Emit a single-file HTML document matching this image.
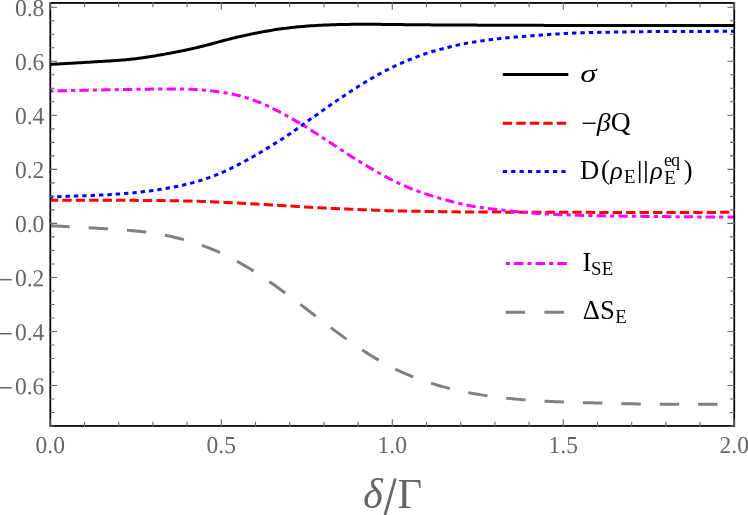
<!DOCTYPE html>
<html><head><meta charset="utf-8"><title>plot</title>
<style>html,body{margin:0;padding:0;background:#fff;}svg{display:block;will-change:transform;}text{font-family:"Liberation Serif",serif;}</style>
</head><body>
<svg width="748" height="515" viewBox="0 0 748 515">
<rect width="748" height="515" fill="#fff"/>
<g fill="none" stroke-width="3.0" stroke-linejoin="round">
<path d="M50.30 64.40 L52.01 64.31 L53.72 64.21 L55.43 64.12 L57.14 64.02 L58.85 63.93 L60.56 63.83 L62.27 63.74 L63.98 63.64 L65.69 63.55 L67.40 63.45 L69.11 63.35 L70.82 63.25 L72.53 63.16 L74.24 63.06 L75.95 62.96 L77.66 62.86 L79.37 62.76 L81.08 62.66 L82.79 62.55 L84.50 62.45 L86.21 62.35 L87.92 62.24 L89.63 62.14 L91.34 62.03 L93.05 61.93 L94.76 61.82 L96.47 61.71 L98.18 61.61 L99.89 61.50 L101.60 61.40 L103.31 61.30 L105.02 61.19 L106.73 61.09 L108.44 60.98 L110.15 60.88 L111.86 60.77 L113.57 60.66 L115.28 60.54 L116.99 60.42 L118.70 60.30 L120.41 60.17 L122.12 60.04 L123.83 59.90 L125.54 59.75 L127.25 59.60 L128.96 59.44 L130.67 59.27 L132.38 59.09 L134.09 58.90 L135.80 58.70 L137.51 58.49 L139.22 58.27 L140.93 58.03 L142.64 57.79 L144.35 57.54 L146.06 57.29 L147.77 57.02 L149.48 56.75 L151.19 56.48 L152.90 56.20 L154.61 55.92 L156.32 55.63 L158.03 55.34 L159.74 55.04 L161.45 54.75 L163.16 54.44 L164.87 54.14 L166.58 53.83 L168.29 53.52 L170.00 53.20 L171.71 52.88 L173.42 52.56 L175.13 52.23 L176.84 51.90 L178.55 51.56 L180.26 51.22 L181.97 50.87 L183.68 50.52 L185.39 50.16 L187.10 49.80 L188.81 49.43 L190.52 49.06 L192.23 48.68 L193.94 48.29 L195.65 47.89 L197.36 47.49 L199.07 47.08 L200.78 46.66 L202.49 46.23 L204.20 45.80 L205.91 45.36 L207.62 44.91 L209.33 44.45 L211.04 43.99 L212.75 43.52 L214.46 43.06 L216.17 42.59 L217.88 42.12 L219.59 41.66 L221.30 41.20 L223.01 40.75 L224.72 40.30 L226.43 39.85 L228.14 39.41 L229.85 38.98 L231.56 38.55 L233.27 38.13 L234.98 37.71 L236.69 37.30 L238.40 36.90 L240.11 36.50 L241.82 36.11 L243.53 35.73 L245.24 35.35 L246.95 34.97 L248.66 34.61 L250.37 34.25 L252.08 33.89 L253.79 33.54 L255.50 33.20 L257.21 32.86 L258.92 32.53 L260.63 32.21 L262.34 31.89 L264.05 31.58 L265.76 31.28 L267.47 30.98 L269.18 30.69 L270.89 30.40 L272.60 30.13 L274.31 29.85 L276.02 29.59 L277.73 29.34 L279.44 29.09 L281.15 28.84 L282.86 28.61 L284.57 28.38 L286.28 28.16 L287.99 27.95 L289.70 27.75 L291.41 27.55 L293.12 27.37 L294.83 27.19 L296.54 27.01 L298.25 26.85 L299.96 26.69 L301.67 26.54 L303.38 26.39 L305.09 26.25 L306.80 26.12 L308.51 25.99 L310.22 25.87 L311.93 25.76 L313.64 25.65 L315.35 25.54 L317.06 25.45 L318.77 25.35 L320.48 25.26 L322.19 25.18 L323.90 25.10 L325.61 25.02 L327.32 24.95 L329.03 24.89 L330.74 24.82 L332.45 24.76 L334.16 24.71 L335.87 24.66 L337.58 24.61 L339.29 24.57 L341.00 24.53 L342.71 24.49 L344.42 24.46 L346.13 24.43 L347.84 24.40 L349.55 24.38 L351.26 24.35 L352.97 24.34 L354.68 24.32 L356.39 24.31 L358.10 24.30 L359.81 24.29 L361.52 24.29 L363.23 24.29 L364.94 24.29 L366.65 24.29 L368.36 24.29 L370.07 24.30 L371.78 24.31 L373.49 24.32 L375.20 24.33 L376.91 24.34 L378.62 24.36 L380.33 24.37 L382.04 24.39 L383.75 24.41 L385.46 24.42 L387.17 24.44 L388.88 24.46 L390.59 24.48 L392.30 24.50 L394.01 24.52 L395.72 24.54 L397.43 24.56 L399.14 24.58 L400.85 24.60 L402.56 24.62 L404.27 24.64 L405.98 24.66 L407.69 24.68 L409.40 24.70 L411.11 24.71 L412.82 24.73 L414.53 24.75 L416.24 24.77 L417.95 24.78 L419.66 24.80 L421.37 24.81 L423.08 24.83 L424.79 24.84 L426.50 24.85 L428.21 24.86 L429.92 24.87 L431.63 24.88 L433.34 24.89 L435.05 24.90 L436.76 24.90 L438.47 24.91 L440.18 24.92 L441.89 24.92 L443.60 24.93 L445.31 24.93 L447.02 24.94 L448.73 24.94 L450.44 24.95 L452.15 24.96 L453.86 24.97 L455.57 24.97 L457.28 24.98 L458.99 24.99 L460.70 25.00 L462.41 25.01 L464.12 25.02 L465.83 25.03 L467.54 25.05 L469.25 25.06 L470.96 25.08 L472.67 25.09 L474.38 25.10 L476.09 25.12 L477.80 25.13 L479.51 25.15 L481.22 25.16 L482.93 25.17 L484.64 25.19 L486.35 25.20 L488.06 25.21 L489.77 25.22 L491.48 25.23 L493.19 25.24 L494.90 25.25 L496.61 25.26 L498.32 25.26 L500.03 25.27 L501.74 25.27 L503.45 25.27 L505.16 25.28 L506.87 25.28 L508.58 25.28 L510.29 25.28 L512.00 25.28 L513.71 25.28 L515.42 25.28 L517.13 25.28 L518.84 25.28 L520.55 25.28 L522.26 25.29 L523.97 25.29 L525.68 25.29 L527.39 25.30 L529.10 25.30 L530.81 25.31 L532.52 25.31 L534.23 25.32 L535.94 25.33 L537.65 25.34 L539.36 25.35 L541.07 25.36 L542.78 25.37 L544.49 25.38 L546.20 25.39 L547.91 25.40 L549.62 25.41 L551.33 25.43 L553.04 25.44 L554.75 25.45 L556.46 25.46 L558.17 25.47 L559.88 25.48 L561.59 25.49 L563.30 25.50 L565.01 25.51 L566.72 25.52 L568.43 25.52 L570.14 25.53 L571.85 25.54 L573.56 25.54 L575.27 25.55 L576.98 25.55 L578.69 25.56 L580.40 25.56 L582.11 25.56 L583.82 25.57 L585.53 25.57 L587.24 25.57 L588.95 25.57 L590.66 25.57 L592.37 25.57 L594.08 25.57 L595.79 25.57 L597.50 25.57 L599.21 25.57 L600.92 25.57 L602.63 25.57 L604.34 25.56 L606.05 25.56 L607.76 25.56 L609.47 25.56 L611.18 25.55 L612.89 25.55 L614.60 25.55 L616.31 25.54 L618.02 25.54 L619.73 25.53 L621.44 25.53 L623.15 25.52 L624.86 25.52 L626.57 25.52 L628.28 25.51 L629.99 25.51 L631.70 25.50 L633.41 25.49 L635.12 25.49 L636.83 25.48 L638.54 25.48 L640.25 25.47 L641.96 25.47 L643.67 25.46 L645.38 25.46 L647.09 25.45 L648.80 25.45 L650.51 25.44 L652.22 25.44 L653.93 25.43 L655.64 25.43 L657.35 25.42 L659.06 25.42 L660.77 25.41 L662.48 25.41 L664.19 25.41 L665.90 25.40 L667.61 25.40 L669.32 25.40 L671.03 25.39 L672.74 25.39 L674.45 25.39 L676.16 25.39 L677.87 25.38 L679.58 25.38 L681.29 25.38 L683.00 25.38 L684.71 25.38 L686.42 25.38 L688.13 25.38 L689.84 25.38 L691.55 25.38 L693.26 25.39 L694.97 25.39 L696.68 25.39 L698.39 25.39 L700.10 25.40 L701.81 25.40 L703.52 25.41 L705.23 25.41 L706.94 25.42 L708.65 25.42 L710.36 25.43 L712.07 25.44 L713.78 25.45 L715.49 25.46 L717.20 25.46 L718.91 25.48 L720.62 25.49 L722.33 25.50 L724.04 25.51 L725.75 25.52 L727.46 25.54 L729.17 25.55 L730.88 25.57 L732.59 25.58 L734.30 25.60" stroke="#000000"/>
<path d="M50.30 200.25 L52.01 200.25 L53.72 200.25 L55.43 200.25 L57.14 200.25 L58.85 200.25 L60.56 200.25 L62.27 200.25 L63.98 200.25 L65.69 200.25 L67.40 200.25 L69.11 200.25 L70.82 200.25 L72.53 200.25 L74.24 200.25 L75.95 200.25 L77.66 200.25 L79.37 200.25 L81.08 200.25 L82.79 200.25 L84.50 200.25 L86.21 200.25 L87.92 200.25 L89.63 200.25 L91.34 200.25 L93.05 200.25 L94.76 200.25 L96.47 200.26 L98.18 200.26 L99.89 200.26 L101.60 200.26 L103.31 200.26 L105.02 200.27 L106.73 200.27 L108.44 200.27 L110.15 200.28 L111.86 200.28 L113.57 200.28 L115.28 200.29 L116.99 200.29 L118.70 200.30 L120.41 200.31 L122.12 200.31 L123.83 200.32 L125.54 200.33 L127.25 200.33 L128.96 200.34 L130.67 200.35 L132.38 200.36 L134.09 200.37 L135.80 200.38 L137.51 200.39 L139.22 200.40 L140.93 200.41 L142.64 200.42 L144.35 200.43 L146.06 200.45 L147.77 200.46 L149.48 200.47 L151.19 200.49 L152.90 200.50 L154.61 200.51 L156.32 200.53 L158.03 200.54 L159.74 200.56 L161.45 200.58 L163.16 200.60 L164.87 200.62 L166.58 200.64 L168.29 200.66 L170.00 200.68 L171.71 200.70 L173.42 200.73 L175.13 200.76 L176.84 200.78 L178.55 200.82 L180.26 200.85 L181.97 200.88 L183.68 200.92 L185.39 200.96 L187.10 201.00 L188.81 201.04 L190.52 201.09 L192.23 201.14 L193.94 201.19 L195.65 201.24 L197.36 201.30 L199.07 201.35 L200.78 201.41 L202.49 201.47 L204.20 201.54 L205.91 201.60 L207.62 201.67 L209.33 201.73 L211.04 201.80 L212.75 201.87 L214.46 201.95 L216.17 202.02 L217.88 202.10 L219.59 202.17 L221.30 202.25 L223.01 202.33 L224.72 202.41 L226.43 202.49 L228.14 202.57 L229.85 202.65 L231.56 202.74 L233.27 202.82 L234.98 202.91 L236.69 203.00 L238.40 203.08 L240.11 203.17 L241.82 203.26 L243.53 203.35 L245.24 203.44 L246.95 203.53 L248.66 203.62 L250.37 203.72 L252.08 203.81 L253.79 203.91 L255.50 204.00 L257.21 204.10 L258.92 204.19 L260.63 204.29 L262.34 204.38 L264.05 204.48 L265.76 204.58 L267.47 204.68 L269.18 204.78 L270.89 204.88 L272.60 204.98 L274.31 205.08 L276.02 205.18 L277.73 205.28 L279.44 205.38 L281.15 205.48 L282.86 205.59 L284.57 205.69 L286.28 205.79 L287.99 205.90 L289.70 206.00 L291.41 206.10 L293.12 206.21 L294.83 206.31 L296.54 206.42 L298.25 206.52 L299.96 206.63 L301.67 206.73 L303.38 206.84 L305.09 206.94 L306.80 207.04 L308.51 207.14 L310.22 207.25 L311.93 207.34 L313.64 207.44 L315.35 207.54 L317.06 207.64 L318.77 207.73 L320.48 207.82 L322.19 207.91 L323.90 208.00 L325.61 208.09 L327.32 208.17 L329.03 208.25 L330.74 208.33 L332.45 208.41 L334.16 208.49 L335.87 208.57 L337.58 208.64 L339.29 208.72 L341.00 208.79 L342.71 208.86 L344.42 208.93 L346.13 209.01 L347.84 209.08 L349.55 209.15 L351.26 209.22 L352.97 209.29 L354.68 209.36 L356.39 209.43 L358.10 209.50 L359.81 209.57 L361.52 209.64 L363.23 209.72 L364.94 209.79 L366.65 209.86 L368.36 209.93 L370.07 210.00 L371.78 210.07 L373.49 210.14 L375.20 210.21 L376.91 210.28 L378.62 210.34 L380.33 210.41 L382.04 210.47 L383.75 210.53 L385.46 210.59 L387.17 210.65 L388.88 210.70 L390.59 210.75 L392.30 210.80 L394.01 210.85 L395.72 210.89 L397.43 210.93 L399.14 210.97 L400.85 211.00 L402.56 211.04 L404.27 211.07 L405.98 211.10 L407.69 211.13 L409.40 211.16 L411.11 211.18 L412.82 211.21 L414.53 211.23 L416.24 211.26 L417.95 211.28 L419.66 211.30 L421.37 211.33 L423.08 211.35 L424.79 211.38 L426.50 211.40 L428.21 211.43 L429.92 211.45 L431.63 211.48 L433.34 211.50 L435.05 211.53 L436.76 211.56 L438.47 211.58 L440.18 211.61 L441.89 211.64 L443.60 211.67 L445.31 211.69 L447.02 211.72 L448.73 211.74 L450.44 211.77 L452.15 211.79 L453.86 211.82 L455.57 211.84 L457.28 211.86 L458.99 211.88 L460.70 211.90 L462.41 211.92 L464.12 211.93 L465.83 211.95 L467.54 211.97 L469.25 211.98 L470.96 211.99 L472.67 212.00 L474.38 212.01 L476.09 212.02 L477.80 212.03 L479.51 212.04 L481.22 212.05 L482.93 212.06 L484.64 212.06 L486.35 212.07 L488.06 212.08 L489.77 212.08 L491.48 212.09 L493.19 212.09 L494.90 212.10 L496.61 212.11 L498.32 212.11 L500.03 212.12 L501.74 212.12 L503.45 212.13 L505.16 212.13 L506.87 212.14 L508.58 212.14 L510.29 212.15 L512.00 212.15 L513.71 212.16 L515.42 212.16 L517.13 212.17 L518.84 212.17 L520.55 212.18 L522.26 212.18 L523.97 212.19 L525.68 212.19 L527.39 212.20 L529.10 212.20 L530.81 212.20 L532.52 212.21 L534.23 212.21 L535.94 212.22 L537.65 212.22 L539.36 212.23 L541.07 212.23 L542.78 212.24 L544.49 212.25 L546.20 212.25 L547.91 212.26 L549.62 212.26 L551.33 212.27 L553.04 212.27 L554.75 212.28 L556.46 212.28 L558.17 212.29 L559.88 212.29 L561.59 212.30 L563.30 212.30 L565.01 212.30 L566.72 212.31 L568.43 212.31 L570.14 212.32 L571.85 212.32 L573.56 212.33 L575.27 212.33 L576.98 212.34 L578.69 212.34 L580.40 212.35 L582.11 212.35 L583.82 212.36 L585.53 212.36 L587.24 212.37 L588.95 212.37 L590.66 212.37 L592.37 212.38 L594.08 212.38 L595.79 212.39 L597.50 212.39 L599.21 212.39 L600.92 212.40 L602.63 212.40 L604.34 212.41 L606.05 212.41 L607.76 212.41 L609.47 212.42 L611.18 212.42 L612.89 212.42 L614.60 212.43 L616.31 212.43 L618.02 212.43 L619.73 212.44 L621.44 212.44 L623.15 212.44 L624.86 212.44 L626.57 212.45 L628.28 212.45 L629.99 212.45 L631.70 212.45 L633.41 212.46 L635.12 212.46 L636.83 212.46 L638.54 212.46 L640.25 212.46 L641.96 212.46 L643.67 212.47 L645.38 212.47 L647.09 212.47 L648.80 212.47 L650.51 212.47 L652.22 212.47 L653.93 212.47 L655.64 212.47 L657.35 212.47 L659.06 212.47 L660.77 212.47 L662.48 212.47 L664.19 212.47 L665.90 212.47 L667.61 212.47 L669.32 212.47 L671.03 212.47 L672.74 212.47 L674.45 212.47 L676.16 212.47 L677.87 212.46 L679.58 212.46 L681.29 212.46 L683.00 212.46 L684.71 212.46 L686.42 212.45 L688.13 212.45 L689.84 212.45 L691.55 212.44 L693.26 212.44 L694.97 212.44 L696.68 212.43 L698.39 212.43 L700.10 212.43 L701.81 212.42 L703.52 212.42 L705.23 212.41 L706.94 212.41 L708.65 212.40 L710.36 212.40 L712.07 212.39 L713.78 212.39 L715.49 212.38 L717.20 212.37 L718.91 212.37 L720.62 212.36 L722.33 212.35 L724.04 212.35 L725.75 212.34 L727.46 212.33 L729.17 212.32 L730.88 212.32 L732.59 212.31 L734.30 212.30" stroke="#ff0000" stroke-dasharray="9.3 4.13" stroke-dashoffset="1.4"/>
<path d="M50.30 197.00 L52.01 196.93 L53.72 196.86 L55.43 196.79 L57.14 196.73 L58.85 196.66 L60.56 196.60 L62.27 196.54 L63.98 196.47 L65.69 196.41 L67.40 196.35 L69.11 196.29 L70.82 196.23 L72.53 196.18 L74.24 196.12 L75.95 196.06 L77.66 196.00 L79.37 195.94 L81.08 195.88 L82.79 195.81 L84.50 195.75 L86.21 195.69 L87.92 195.62 L89.63 195.55 L91.34 195.48 L93.05 195.41 L94.76 195.34 L96.47 195.26 L98.18 195.19 L99.89 195.10 L101.60 195.02 L103.31 194.94 L105.02 194.85 L106.73 194.75 L108.44 194.66 L110.15 194.56 L111.86 194.45 L113.57 194.35 L115.28 194.24 L116.99 194.12 L118.70 194.00 L120.41 193.88 L122.12 193.75 L123.83 193.61 L125.54 193.47 L127.25 193.33 L128.96 193.18 L130.67 193.02 L132.38 192.87 L134.09 192.70 L135.80 192.53 L137.51 192.35 L139.22 192.17 L140.93 191.98 L142.64 191.79 L144.35 191.59 L146.06 191.39 L147.77 191.17 L149.48 190.96 L151.19 190.73 L152.90 190.50 L154.61 190.26 L156.32 190.02 L158.03 189.77 L159.74 189.51 L161.45 189.24 L163.16 188.97 L164.87 188.68 L166.58 188.39 L168.29 188.09 L170.00 187.79 L171.71 187.47 L173.42 187.14 L175.13 186.80 L176.84 186.46 L178.55 186.10 L180.26 185.73 L181.97 185.35 L183.68 184.96 L185.39 184.56 L187.10 184.15 L188.81 183.73 L190.52 183.29 L192.23 182.84 L193.94 182.38 L195.65 181.90 L197.36 181.41 L199.07 180.91 L200.78 180.39 L202.49 179.85 L204.20 179.30 L205.91 178.73 L207.62 178.15 L209.33 177.55 L211.04 176.93 L212.75 176.30 L214.46 175.65 L216.17 174.97 L217.88 174.29 L219.59 173.58 L221.30 172.85 L223.01 172.10 L224.72 171.34 L226.43 170.56 L228.14 169.76 L229.85 168.94 L231.56 168.11 L233.27 167.26 L234.98 166.40 L236.69 165.53 L238.40 164.65 L240.11 163.76 L241.82 162.85 L243.53 161.94 L245.24 161.01 L246.95 160.08 L248.66 159.13 L250.37 158.18 L252.08 157.21 L253.79 156.23 L255.50 155.25 L257.21 154.26 L258.92 153.25 L260.63 152.24 L262.34 151.22 L264.05 150.19 L265.76 149.16 L267.47 148.11 L269.18 147.07 L270.89 146.01 L272.60 144.95 L274.31 143.88 L276.02 142.81 L277.73 141.73 L279.44 140.65 L281.15 139.55 L282.86 138.44 L284.57 137.33 L286.28 136.20 L287.99 135.06 L289.70 133.90 L291.41 132.73 L293.12 131.55 L294.83 130.35 L296.54 129.15 L298.25 127.94 L299.96 126.72 L301.67 125.49 L303.38 124.26 L305.09 123.03 L306.80 121.80 L308.51 120.57 L310.22 119.34 L311.93 118.11 L313.64 116.89 L315.35 115.67 L317.06 114.45 L318.77 113.23 L320.48 112.02 L322.19 110.81 L323.90 109.60 L325.61 108.40 L327.32 107.20 L329.03 106.01 L330.74 104.82 L332.45 103.64 L334.16 102.46 L335.87 101.29 L337.58 100.12 L339.29 98.96 L341.00 97.80 L342.71 96.65 L344.42 95.50 L346.13 94.37 L347.84 93.23 L349.55 92.11 L351.26 90.99 L352.97 89.88 L354.68 88.78 L356.39 87.69 L358.10 86.60 L359.81 85.52 L361.52 84.46 L363.23 83.40 L364.94 82.35 L366.65 81.31 L368.36 80.29 L370.07 79.27 L371.78 78.27 L373.49 77.28 L375.20 76.30 L376.91 75.34 L378.62 74.38 L380.33 73.45 L382.04 72.52 L383.75 71.62 L385.46 70.72 L387.17 69.84 L388.88 68.98 L390.59 68.13 L392.30 67.30 L394.01 66.48 L395.72 65.68 L397.43 64.90 L399.14 64.12 L400.85 63.37 L402.56 62.62 L404.27 61.89 L405.98 61.16 L407.69 60.45 L409.40 59.75 L411.11 59.06 L412.82 58.38 L414.53 57.71 L416.24 57.05 L417.95 56.40 L419.66 55.77 L421.37 55.15 L423.08 54.55 L424.79 53.97 L426.50 53.40 L428.21 52.85 L429.92 52.32 L431.63 51.80 L433.34 51.30 L435.05 50.81 L436.76 50.33 L438.47 49.86 L440.18 49.40 L441.89 48.95 L443.60 48.50 L445.31 48.06 L447.02 47.62 L448.73 47.18 L450.44 46.76 L452.15 46.34 L453.86 45.93 L455.57 45.53 L457.28 45.14 L458.99 44.76 L460.70 44.40 L462.41 44.05 L464.12 43.72 L465.83 43.39 L467.54 43.08 L469.25 42.78 L470.96 42.49 L472.67 42.20 L474.38 41.93 L476.09 41.66 L477.80 41.40 L479.51 41.14 L481.22 40.89 L482.93 40.65 L484.64 40.41 L486.35 40.17 L488.06 39.95 L489.77 39.72 L491.48 39.51 L493.19 39.30 L494.90 39.10 L496.61 38.91 L498.32 38.72 L500.03 38.54 L501.74 38.36 L503.45 38.19 L505.16 38.02 L506.87 37.86 L508.58 37.70 L510.29 37.55 L512.00 37.40 L513.71 37.25 L515.42 37.11 L517.13 36.96 L518.84 36.82 L520.55 36.68 L522.26 36.54 L523.97 36.41 L525.68 36.27 L527.39 36.14 L529.10 36.00 L530.81 35.87 L532.52 35.73 L534.23 35.60 L535.94 35.46 L537.65 35.33 L539.36 35.20 L541.07 35.07 L542.78 34.94 L544.49 34.82 L546.20 34.69 L547.91 34.57 L549.62 34.45 L551.33 34.33 L553.04 34.22 L554.75 34.11 L556.46 34.00 L558.17 33.89 L559.88 33.79 L561.59 33.69 L563.30 33.60 L565.01 33.51 L566.72 33.43 L568.43 33.34 L570.14 33.27 L571.85 33.19 L573.56 33.12 L575.27 33.05 L576.98 32.99 L578.69 32.93 L580.40 32.87 L582.11 32.81 L583.82 32.76 L585.53 32.71 L587.24 32.66 L588.95 32.61 L590.66 32.57 L592.37 32.52 L594.08 32.48 L595.79 32.44 L597.50 32.40 L599.21 32.36 L600.92 32.32 L602.63 32.29 L604.34 32.25 L606.05 32.22 L607.76 32.18 L609.47 32.15 L611.18 32.12 L612.89 32.09 L614.60 32.06 L616.31 32.03 L618.02 32.00 L619.73 31.97 L621.44 31.94 L623.15 31.92 L624.86 31.89 L626.57 31.87 L628.28 31.85 L629.99 31.82 L631.70 31.80 L633.41 31.78 L635.12 31.76 L636.83 31.74 L638.54 31.72 L640.25 31.70 L641.96 31.68 L643.67 31.66 L645.38 31.65 L647.09 31.63 L648.80 31.62 L650.51 31.60 L652.22 31.59 L653.93 31.58 L655.64 31.56 L657.35 31.55 L659.06 31.54 L660.77 31.53 L662.48 31.52 L664.19 31.51 L665.90 31.50 L667.61 31.49 L669.32 31.48 L671.03 31.48 L672.74 31.47 L674.45 31.46 L676.16 31.46 L677.87 31.45 L679.58 31.45 L681.29 31.44 L683.00 31.44 L684.71 31.43 L686.42 31.43 L688.13 31.43 L689.84 31.42 L691.55 31.42 L693.26 31.41 L694.97 31.41 L696.68 31.41 L698.39 31.40 L700.10 31.40 L701.81 31.40 L703.52 31.39 L705.23 31.39 L706.94 31.38 L708.65 31.38 L710.36 31.37 L712.07 31.37 L713.78 31.36 L715.49 31.36 L717.20 31.35 L718.91 31.34 L720.62 31.33 L722.33 31.33 L724.04 31.32 L725.75 31.31 L727.46 31.30 L729.17 31.29 L730.88 31.28 L732.59 31.26 L734.30 31.25" stroke="#0000ff" stroke-dasharray="4.4 3.97" stroke-dashoffset="-6.87"/>
<path d="M50.30 91.00 L52.01 90.97 L53.72 90.94 L55.43 90.91 L57.14 90.88 L58.85 90.84 L60.56 90.81 L62.27 90.78 L63.98 90.74 L65.69 90.71 L67.40 90.67 L69.11 90.64 L70.82 90.60 L72.53 90.56 L74.24 90.53 L75.95 90.49 L77.66 90.45 L79.37 90.41 L81.08 90.38 L82.79 90.34 L84.50 90.30 L86.21 90.26 L87.92 90.22 L89.63 90.19 L91.34 90.15 L93.05 90.11 L94.76 90.07 L96.47 90.04 L98.18 90.00 L99.89 89.96 L101.60 89.93 L103.31 89.89 L105.02 89.86 L106.73 89.82 L108.44 89.79 L110.15 89.76 L111.86 89.72 L113.57 89.69 L115.28 89.66 L116.99 89.63 L118.70 89.60 L120.41 89.57 L122.12 89.54 L123.83 89.52 L125.54 89.49 L127.25 89.46 L128.96 89.44 L130.67 89.41 L132.38 89.39 L134.09 89.36 L135.80 89.34 L137.51 89.31 L139.22 89.29 L140.93 89.27 L142.64 89.24 L144.35 89.22 L146.06 89.20 L147.77 89.17 L149.48 89.15 L151.19 89.12 L152.90 89.10 L154.61 89.08 L156.32 89.05 L158.03 89.03 L159.74 89.00 L161.45 88.98 L163.16 88.96 L164.87 88.94 L166.58 88.92 L168.29 88.91 L170.00 88.90 L171.71 88.89 L173.42 88.89 L175.13 88.89 L176.84 88.90 L178.55 88.91 L180.26 88.93 L181.97 88.96 L183.68 89.00 L185.39 89.04 L187.10 89.10 L188.81 89.17 L190.52 89.24 L192.23 89.33 L193.94 89.43 L195.65 89.53 L197.36 89.65 L199.07 89.77 L200.78 89.91 L202.49 90.05 L204.20 90.20 L205.91 90.36 L207.62 90.52 L209.33 90.70 L211.04 90.88 L212.75 91.08 L214.46 91.28 L216.17 91.49 L217.88 91.72 L219.59 91.95 L221.30 92.20 L223.01 92.46 L224.72 92.73 L226.43 93.02 L228.14 93.32 L229.85 93.63 L231.56 93.97 L233.27 94.32 L234.98 94.69 L236.69 95.09 L238.40 95.50 L240.11 95.94 L241.82 96.40 L243.53 96.88 L245.24 97.39 L246.95 97.92 L248.66 98.47 L250.37 99.04 L252.08 99.64 L253.79 100.26 L255.50 100.90 L257.21 101.56 L258.92 102.25 L260.63 102.95 L262.34 103.68 L264.05 104.42 L265.76 105.19 L267.47 105.97 L269.18 106.76 L270.89 107.57 L272.60 108.40 L274.31 109.24 L276.02 110.09 L277.73 110.96 L279.44 111.84 L281.15 112.73 L282.86 113.64 L284.57 114.56 L286.28 115.49 L287.99 116.44 L289.70 117.40 L291.41 118.37 L293.12 119.36 L294.83 120.35 L296.54 121.36 L298.25 122.38 L299.96 123.41 L301.67 124.44 L303.38 125.49 L305.09 126.54 L306.80 127.60 L308.51 128.67 L310.22 129.74 L311.93 130.82 L313.64 131.90 L315.35 132.99 L317.06 134.08 L318.77 135.18 L320.48 136.28 L322.19 137.39 L323.90 138.50 L325.61 139.61 L327.32 140.73 L329.03 141.85 L330.74 142.97 L332.45 144.09 L334.16 145.21 L335.87 146.33 L337.58 147.45 L339.29 148.58 L341.00 149.70 L342.71 150.82 L344.42 151.94 L346.13 153.06 L347.84 154.17 L349.55 155.28 L351.26 156.38 L352.97 157.47 L354.68 158.56 L356.39 159.63 L358.10 160.70 L359.81 161.76 L361.52 162.80 L363.23 163.84 L364.94 164.86 L366.65 165.88 L368.36 166.89 L370.07 167.89 L371.78 168.88 L373.49 169.87 L375.20 170.85 L376.91 171.83 L378.62 172.79 L380.33 173.76 L382.04 174.71 L383.75 175.65 L385.46 176.58 L387.17 177.49 L388.88 178.40 L390.59 179.28 L392.30 180.15 L394.01 181.00 L395.72 181.83 L397.43 182.65 L399.14 183.45 L400.85 184.23 L402.56 184.99 L404.27 185.74 L405.98 186.48 L407.69 187.20 L409.40 187.90 L411.11 188.59 L412.82 189.27 L414.53 189.93 L416.24 190.58 L417.95 191.22 L419.66 191.84 L421.37 192.45 L423.08 193.05 L424.79 193.63 L426.50 194.20 L428.21 194.76 L429.92 195.30 L431.63 195.84 L433.34 196.36 L435.05 196.88 L436.76 197.38 L438.47 197.88 L440.18 198.38 L441.89 198.87 L443.60 199.35 L445.31 199.83 L447.02 200.31 L448.73 200.78 L450.44 201.24 L452.15 201.69 L453.86 202.14 L455.57 202.57 L457.28 203.00 L458.99 203.41 L460.70 203.80 L462.41 204.18 L464.12 204.54 L465.83 204.89 L467.54 205.23 L469.25 205.55 L470.96 205.86 L472.67 206.16 L474.38 206.45 L476.09 206.73 L477.80 207.00 L479.51 207.26 L481.22 207.51 L482.93 207.76 L484.64 207.99 L486.35 208.22 L488.06 208.45 L489.77 208.67 L491.48 208.88 L493.19 209.09 L494.90 209.30 L496.61 209.50 L498.32 209.71 L500.03 209.90 L501.74 210.10 L503.45 210.29 L505.16 210.48 L506.87 210.66 L508.58 210.85 L510.29 211.03 L512.00 211.20 L513.71 211.37 L515.42 211.54 L517.13 211.70 L518.84 211.87 L520.55 212.02 L522.26 212.18 L523.97 212.33 L525.68 212.47 L527.39 212.61 L529.10 212.75 L530.81 212.88 L532.52 213.01 L534.23 213.14 L535.94 213.26 L537.65 213.38 L539.36 213.49 L541.07 213.60 L542.78 213.71 L544.49 213.81 L546.20 213.91 L547.91 214.01 L549.62 214.10 L551.33 214.19 L553.04 214.28 L554.75 214.37 L556.46 214.45 L558.17 214.53 L559.88 214.60 L561.59 214.68 L563.30 214.75 L565.01 214.82 L566.72 214.89 L568.43 214.95 L570.14 215.01 L571.85 215.07 L573.56 215.13 L575.27 215.19 L576.98 215.24 L578.69 215.29 L580.40 215.34 L582.11 215.39 L583.82 215.44 L585.53 215.48 L587.24 215.52 L588.95 215.56 L590.66 215.60 L592.37 215.64 L594.08 215.68 L595.79 215.72 L597.50 215.75 L599.21 215.78 L600.92 215.82 L602.63 215.85 L604.34 215.88 L606.05 215.91 L607.76 215.93 L609.47 215.96 L611.18 215.99 L612.89 216.01 L614.60 216.04 L616.31 216.06 L618.02 216.08 L619.73 216.11 L621.44 216.13 L623.15 216.15 L624.86 216.17 L626.57 216.19 L628.28 216.21 L629.99 216.23 L631.70 216.25 L633.41 216.27 L635.12 216.29 L636.83 216.31 L638.54 216.33 L640.25 216.34 L641.96 216.36 L643.67 216.38 L645.38 216.40 L647.09 216.42 L648.80 216.43 L650.51 216.45 L652.22 216.47 L653.93 216.48 L655.64 216.50 L657.35 216.52 L659.06 216.53 L660.77 216.55 L662.48 216.57 L664.19 216.58 L665.90 216.60 L667.61 216.62 L669.32 216.63 L671.03 216.65 L672.74 216.66 L674.45 216.68 L676.16 216.70 L677.87 216.71 L679.58 216.73 L681.29 216.74 L683.00 216.76 L684.71 216.77 L686.42 216.79 L688.13 216.80 L689.84 216.82 L691.55 216.83 L693.26 216.85 L694.97 216.86 L696.68 216.87 L698.39 216.89 L700.10 216.90 L701.81 216.91 L703.52 216.93 L705.23 216.94 L706.94 216.95 L708.65 216.96 L710.36 216.97 L712.07 216.99 L713.78 217.00 L715.49 217.01 L717.20 217.02 L718.91 217.03 L720.62 217.04 L722.33 217.05 L724.04 217.05 L725.75 217.06 L727.46 217.07 L729.17 217.08 L730.88 217.09 L732.59 217.09 L734.30 217.10" stroke="#ff00ff" stroke-dasharray="4.2 4.15 9.3 4.15" stroke-dashoffset="1.05"/>
<path d="M50.30 225.75 L52.01 225.84 L53.72 225.92 L55.43 226.01 L57.14 226.09 L58.85 226.18 L60.56 226.26 L62.27 226.35 L63.98 226.43 L65.69 226.52 L67.40 226.61 L69.11 226.69 L70.82 226.78 L72.53 226.87 L74.24 226.96 L75.95 227.04 L77.66 227.13 L79.37 227.22 L81.08 227.32 L82.79 227.41 L84.50 227.50 L86.21 227.59 L87.92 227.69 L89.63 227.78 L91.34 227.88 L93.05 227.98 L94.76 228.08 L96.47 228.18 L98.18 228.28 L99.89 228.38 L101.60 228.48 L103.31 228.59 L105.02 228.69 L106.73 228.80 L108.44 228.91 L110.15 229.02 L111.86 229.13 L113.57 229.25 L115.28 229.36 L116.99 229.48 L118.70 229.60 L120.41 229.72 L122.12 229.84 L123.83 229.97 L125.54 230.10 L127.25 230.23 L128.96 230.37 L130.67 230.52 L132.38 230.66 L134.09 230.82 L135.80 230.98 L137.51 231.15 L139.22 231.32 L140.93 231.50 L142.64 231.70 L144.35 231.90 L146.06 232.11 L147.77 232.33 L149.48 232.56 L151.19 232.80 L152.90 233.05 L154.61 233.31 L156.32 233.59 L158.03 233.88 L159.74 234.18 L161.45 234.49 L163.16 234.82 L164.87 235.15 L166.58 235.50 L168.29 235.86 L170.00 236.23 L171.71 236.62 L173.42 237.01 L175.13 237.42 L176.84 237.84 L178.55 238.27 L180.26 238.71 L181.97 239.17 L183.68 239.63 L185.39 240.11 L187.10 240.60 L188.81 241.10 L190.52 241.61 L192.23 242.14 L193.94 242.68 L195.65 243.23 L197.36 243.79 L199.07 244.37 L200.78 244.96 L202.49 245.57 L204.20 246.19 L205.91 246.82 L207.62 247.47 L209.33 248.14 L211.04 248.82 L212.75 249.51 L214.46 250.23 L216.17 250.96 L217.88 251.70 L219.59 252.47 L221.30 253.25 L223.01 254.05 L224.72 254.87 L226.43 255.70 L228.14 256.55 L229.85 257.42 L231.56 258.31 L233.27 259.21 L234.98 260.13 L236.69 261.06 L238.40 262.01 L240.11 262.97 L241.82 263.95 L243.53 264.95 L245.24 265.96 L246.95 266.98 L248.66 268.02 L250.37 269.07 L252.08 270.13 L253.79 271.21 L255.50 272.30 L257.21 273.40 L258.92 274.52 L260.63 275.65 L262.34 276.79 L264.05 277.94 L265.76 279.10 L267.47 280.27 L269.18 281.46 L270.89 282.65 L272.60 283.85 L274.31 285.06 L276.02 286.28 L277.73 287.51 L279.44 288.74 L281.15 289.99 L282.86 291.24 L284.57 292.49 L286.28 293.76 L287.99 295.03 L289.70 296.30 L291.41 297.58 L293.12 298.86 L294.83 300.15 L296.54 301.45 L298.25 302.74 L299.96 304.04 L301.67 305.35 L303.38 306.65 L305.09 307.96 L306.80 309.27 L308.51 310.58 L310.22 311.89 L311.93 313.20 L313.64 314.51 L315.35 315.82 L317.06 317.13 L318.77 318.44 L320.48 319.74 L322.19 321.05 L323.90 322.35 L325.61 323.65 L327.32 324.94 L329.03 326.24 L330.74 327.52 L332.45 328.81 L334.16 330.08 L335.87 331.36 L337.58 332.62 L339.29 333.88 L341.00 335.13 L342.71 336.38 L344.42 337.62 L346.13 338.85 L347.84 340.07 L349.55 341.28 L351.26 342.49 L352.97 343.68 L354.68 344.86 L356.39 346.04 L358.10 347.20 L359.81 348.35 L361.52 349.49 L363.23 350.62 L364.94 351.73 L366.65 352.83 L368.36 353.92 L370.07 355.00 L371.78 356.06 L373.49 357.11 L375.20 358.14 L376.91 359.16 L378.62 360.16 L380.33 361.15 L382.04 362.12 L383.75 363.07 L385.46 364.01 L387.17 364.94 L388.88 365.84 L390.59 366.73 L392.30 367.60 L394.01 368.45 L395.72 369.29 L397.43 370.10 L399.14 370.90 L400.85 371.69 L402.56 372.45 L404.27 373.21 L405.98 373.94 L407.69 374.66 L409.40 375.37 L411.11 376.06 L412.82 376.74 L414.53 377.40 L416.24 378.05 L417.95 378.69 L419.66 379.32 L421.37 379.93 L423.08 380.53 L424.79 381.12 L426.50 381.70 L428.21 382.27 L429.92 382.83 L431.63 383.37 L433.34 383.91 L435.05 384.44 L436.76 384.95 L438.47 385.46 L440.18 385.95 L441.89 386.44 L443.60 386.91 L445.31 387.38 L447.02 387.83 L448.73 388.28 L450.44 388.71 L452.15 389.13 L453.86 389.55 L455.57 389.95 L457.28 390.34 L458.99 390.73 L460.70 391.10 L462.41 391.46 L464.12 391.82 L465.83 392.16 L467.54 392.50 L469.25 392.82 L470.96 393.14 L472.67 393.45 L474.38 393.75 L476.09 394.04 L477.80 394.33 L479.51 394.60 L481.22 394.87 L482.93 395.14 L484.64 395.39 L486.35 395.64 L488.06 395.88 L489.77 396.12 L491.48 396.35 L493.19 396.58 L494.90 396.80 L496.61 397.02 L498.32 397.23 L500.03 397.43 L501.74 397.63 L503.45 397.83 L505.16 398.02 L506.87 398.20 L508.58 398.38 L510.29 398.56 L512.00 398.73 L513.71 398.90 L515.42 399.06 L517.13 399.22 L518.84 399.37 L520.55 399.52 L522.26 399.67 L523.97 399.81 L525.68 399.94 L527.39 400.07 L529.10 400.20 L530.81 400.32 L532.52 400.44 L534.23 400.56 L535.94 400.67 L537.65 400.77 L539.36 400.88 L541.07 400.98 L542.78 401.07 L544.49 401.17 L546.20 401.25 L547.91 401.34 L549.62 401.43 L551.33 401.51 L553.04 401.58 L554.75 401.66 L556.46 401.73 L558.17 401.80 L559.88 401.87 L561.59 401.94 L563.30 402.00 L565.01 402.06 L566.72 402.12 L568.43 402.18 L570.14 402.24 L571.85 402.29 L573.56 402.35 L575.27 402.40 L576.98 402.45 L578.69 402.50 L580.40 402.55 L582.11 402.60 L583.82 402.64 L585.53 402.69 L587.24 402.73 L588.95 402.78 L590.66 402.82 L592.37 402.87 L594.08 402.91 L595.79 402.96 L597.50 403.00 L599.21 403.04 L600.92 403.09 L602.63 403.13 L604.34 403.18 L606.05 403.22 L607.76 403.26 L609.47 403.30 L611.18 403.35 L612.89 403.39 L614.60 403.43 L616.31 403.47 L618.02 403.51 L619.73 403.55 L621.44 403.59 L623.15 403.63 L624.86 403.66 L626.57 403.70 L628.28 403.73 L629.99 403.77 L631.70 403.80 L633.41 403.83 L635.12 403.86 L636.83 403.89 L638.54 403.92 L640.25 403.94 L641.96 403.97 L643.67 403.99 L645.38 404.01 L647.09 404.04 L648.80 404.06 L650.51 404.08 L652.22 404.09 L653.93 404.11 L655.64 404.13 L657.35 404.14 L659.06 404.16 L660.77 404.17 L662.48 404.18 L664.19 404.19 L665.90 404.20 L667.61 404.21 L669.32 404.22 L671.03 404.22 L672.74 404.23 L674.45 404.23 L676.16 404.24 L677.87 404.24 L679.58 404.25 L681.29 404.25 L683.00 404.25 L684.71 404.25 L686.42 404.25 L688.13 404.25 L689.84 404.25 L691.55 404.25 L693.26 404.25 L694.97 404.25 L696.68 404.25 L698.39 404.25 L700.10 404.25 L701.81 404.25 L703.52 404.25 L705.23 404.25 L706.94 404.25 L708.65 404.25 L710.36 404.25 L712.07 404.25 L713.78 404.25 L715.49 404.25 L717.20 404.25 L718.91 404.25 L720.62 404.25 L722.33 404.26 L724.04 404.26 L725.75 404.27 L727.46 404.27 L729.17 404.28 L730.88 404.28 L732.59 404.29 L734.30 404.30" stroke="#808080" stroke-dasharray="19.4 19.0" stroke-dashoffset="0"/>
</g>
<rect x="50.3" y="2.95" width="683.95" height="423.0" fill="none" stroke="#000" stroke-width="1.75"/>
<path d="M50.30 426.84999999999997 v-7.7 M50.30 2.0500000000000003 v7.7 M84.50 426.84999999999997 v-5.1000000000000005 M84.50 2.0500000000000003 v5.1000000000000005 M118.70 426.84999999999997 v-5.1000000000000005 M118.70 2.0500000000000003 v5.1000000000000005 M152.90 426.84999999999997 v-5.1000000000000005 M152.90 2.0500000000000003 v5.1000000000000005 M187.10 426.84999999999997 v-5.1000000000000005 M187.10 2.0500000000000003 v5.1000000000000005 M221.30 426.84999999999997 v-7.7 M221.30 2.0500000000000003 v7.7 M255.50 426.84999999999997 v-5.1000000000000005 M255.50 2.0500000000000003 v5.1000000000000005 M289.70 426.84999999999997 v-5.1000000000000005 M289.70 2.0500000000000003 v5.1000000000000005 M323.90 426.84999999999997 v-5.1000000000000005 M323.90 2.0500000000000003 v5.1000000000000005 M358.10 426.84999999999997 v-5.1000000000000005 M358.10 2.0500000000000003 v5.1000000000000005 M392.30 426.84999999999997 v-7.7 M392.30 2.0500000000000003 v7.7 M426.50 426.84999999999997 v-5.1000000000000005 M426.50 2.0500000000000003 v5.1000000000000005 M460.70 426.84999999999997 v-5.1000000000000005 M460.70 2.0500000000000003 v5.1000000000000005 M494.90 426.84999999999997 v-5.1000000000000005 M494.90 2.0500000000000003 v5.1000000000000005 M529.10 426.84999999999997 v-5.1000000000000005 M529.10 2.0500000000000003 v5.1000000000000005 M563.30 426.84999999999997 v-7.7 M563.30 2.0500000000000003 v7.7 M597.50 426.84999999999997 v-5.1000000000000005 M597.50 2.0500000000000003 v5.1000000000000005 M631.70 426.84999999999997 v-5.1000000000000005 M631.70 2.0500000000000003 v5.1000000000000005 M665.90 426.84999999999997 v-5.1000000000000005 M665.90 2.0500000000000003 v5.1000000000000005 M700.10 426.84999999999997 v-5.1000000000000005 M700.10 2.0500000000000003 v5.1000000000000005 M734.30 426.84999999999997 v-7.7 M734.30 2.0500000000000003 v7.7 M49.4 426.05 h5.1000000000000005 M735.15 426.05 h-5.1000000000000005 M49.4 412.54 h5.1000000000000005 M735.15 412.54 h-5.1000000000000005 M49.4 399.03 h5.1000000000000005 M735.15 399.03 h-5.1000000000000005 M49.4 385.52 h7.7 M735.15 385.52 h-7.7 M49.4 372.01 h5.1000000000000005 M735.15 372.01 h-5.1000000000000005 M49.4 358.50 h5.1000000000000005 M735.15 358.50 h-5.1000000000000005 M49.4 344.99 h5.1000000000000005 M735.15 344.99 h-5.1000000000000005 M49.4 331.48 h7.7 M735.15 331.48 h-7.7 M49.4 317.97 h5.1000000000000005 M735.15 317.97 h-5.1000000000000005 M49.4 304.46 h5.1000000000000005 M735.15 304.46 h-5.1000000000000005 M49.4 290.95 h5.1000000000000005 M735.15 290.95 h-5.1000000000000005 M49.4 277.44 h7.7 M735.15 277.44 h-7.7 M49.4 263.93 h5.1000000000000005 M735.15 263.93 h-5.1000000000000005 M49.4 250.42 h5.1000000000000005 M735.15 250.42 h-5.1000000000000005 M49.4 236.91 h5.1000000000000005 M735.15 236.91 h-5.1000000000000005 M49.4 223.40 h7.7 M735.15 223.40 h-7.7 M49.4 209.89 h5.1000000000000005 M735.15 209.89 h-5.1000000000000005 M49.4 196.38 h5.1000000000000005 M735.15 196.38 h-5.1000000000000005 M49.4 182.87 h5.1000000000000005 M735.15 182.87 h-5.1000000000000005 M49.4 169.36 h7.7 M735.15 169.36 h-7.7 M49.4 155.85 h5.1000000000000005 M735.15 155.85 h-5.1000000000000005 M49.4 142.34 h5.1000000000000005 M735.15 142.34 h-5.1000000000000005 M49.4 128.83 h5.1000000000000005 M735.15 128.83 h-5.1000000000000005 M49.4 115.32 h7.7 M735.15 115.32 h-7.7 M49.4 101.81 h5.1000000000000005 M735.15 101.81 h-5.1000000000000005 M49.4 88.30 h5.1000000000000005 M735.15 88.30 h-5.1000000000000005 M49.4 74.79 h5.1000000000000005 M735.15 74.79 h-5.1000000000000005 M49.4 61.28 h7.7 M735.15 61.28 h-7.7 M49.4 47.77 h5.1000000000000005 M735.15 47.77 h-5.1000000000000005 M49.4 34.26 h5.1000000000000005 M735.15 34.26 h-5.1000000000000005 M49.4 20.75 h5.1000000000000005 M735.15 20.75 h-5.1000000000000005 M49.4 7.24 h7.7 M735.15 7.24 h-7.7" stroke="#666" stroke-width="1.1" fill="none"/>
<g font-family="Liberation Serif, serif" font-size="23.5" fill="#666">
<path d="M-1 387.77 H11.75" stroke="#666" stroke-width="1.5" fill="none"/>
<text transform="translate(44.3 394.22) rotate(0.03) scale(1 1.035)" text-anchor="end">0.6</text>
<path d="M-1 333.73 H11.75" stroke="#666" stroke-width="1.5" fill="none"/>
<text transform="translate(44.3 340.18) rotate(0.03) scale(1 1.035)" text-anchor="end">0.4</text>
<path d="M-1 279.69 H11.75" stroke="#666" stroke-width="1.5" fill="none"/>
<text transform="translate(44.3 286.14) rotate(0.03) scale(1 1.035)" text-anchor="end">0.2</text>
<text transform="translate(44.3 232.10) rotate(0.03) scale(1 1.035)" text-anchor="end">0.0</text>
<text transform="translate(44.3 178.06) rotate(0.03) scale(1 1.035)" text-anchor="end">0.2</text>
<text transform="translate(44.3 124.02) rotate(0.03) scale(1 1.035)" text-anchor="end">0.4</text>
<text transform="translate(44.3 69.98) rotate(0.03) scale(1 1.035)" text-anchor="end">0.6</text>
<text transform="translate(44.3 15.94) rotate(0.03) scale(1 1.035)" text-anchor="end">0.8</text>
<text transform="translate(50.30 453.05) rotate(0.03) scale(1 1.035)" text-anchor="middle">0.0</text>
<text transform="translate(221.30 453.05) rotate(0.03) scale(1 1.035)" text-anchor="middle">0.5</text>
<text transform="translate(392.30 453.05) rotate(0.03) scale(1 1.035)" text-anchor="middle">1.0</text>
<text transform="translate(563.30 453.05) rotate(0.03) scale(1 1.035)" text-anchor="middle">1.5</text>
<text transform="translate(734.30 453.05) rotate(0.03) scale(1 1.035)" text-anchor="middle">2.0</text>
</g>
<g font-family="Liberation Serif, serif">
<text transform="translate(363.00 507.90)" font-size="42.50" font-style="italic" fill="#666">δ</text>
<text transform="translate(397.60 507.75)" font-size="42.50" fill="#666">Γ</text>
<path d="M395.35 478.5 L384.4 517" stroke="#666" stroke-width="2.7" fill="none"/>
</g>
<g fill="none" stroke-width="3.0">
<path d="M502.8 74.45 H568.3" stroke="#000"/>
<path d="M502.8 123.2 H566.5" stroke="#f00" stroke-dasharray="9.4 4.1"/>
<path d="M502.8 171.5 H566.2" stroke="#00f" stroke-dasharray="4.2 4.17"/>
<path d="M505.7 263.6 H567.2" stroke="#f0f" stroke-dasharray="4.2 3.9 9.6 4"/>
<path d="M505.6 312.3 H564" stroke="#808080" stroke-dasharray="19.5 19.3"/>
</g>
<g font-family="Liberation Serif, serif">
<text transform="translate(580.19 82.10) scale(1.360 1)" font-size="24.30" font-style="italic" fill="#000">σ</text>
<text transform="translate(581.03 132.25) scale(1.050 1)" font-size="26.60" fill="#000">−</text>
<text transform="translate(596.81 130.55) scale(1.090 1)" font-size="25.50" font-style="italic" fill="#000">β</text>
<text transform="translate(610.75 130.55) scale(1.020 1)" font-size="27.00" fill="#000">Q</text>
<text transform="translate(579.97 178.85)" font-size="26.60" fill="#000">D</text>
<text transform="translate(600.99 178.85)" font-size="26.60" fill="#000">(</text>
<text transform="translate(610.33 178.85) scale(1.020 1)" font-size="25.50" font-style="italic" fill="#000">ρ</text>
<text transform="translate(624.07 182.75)" font-size="18.80" fill="#000">E</text>
<text transform="translate(636.57 177.75) scale(1.300 1)" font-size="24.50" fill="#000">|</text>
<text transform="translate(642.87 177.75) scale(1.300 1)" font-size="24.50" fill="#000">|</text>
<text transform="translate(650.33 178.85) scale(1.020 1)" font-size="25.50" font-style="italic" fill="#000">ρ</text>
<text transform="translate(664.27 184.25)" font-size="18.80" fill="#000">E</text>
<text transform="translate(664.01 166.20)" font-size="18.00" fill="#000">e</text>
<text transform="translate(671.11 166.20)" font-size="18.00" fill="#000">q</text>
<text transform="translate(683.65 178.85)" font-size="26.60" fill="#000">)</text>
<text transform="translate(582.60 270.65)" font-size="26.60" fill="#000">I</text>
<text transform="translate(591.02 274.55)" font-size="18.80" fill="#000">S</text>
<text transform="translate(601.87 274.55)" font-size="18.80" fill="#000">E</text>
<text transform="translate(582.75 319.20)" font-size="26.60" fill="#000">Δ</text>
<text transform="translate(599.95 319.20)" font-size="26.60" fill="#000">S</text>
<text transform="translate(615.17 323.10)" font-size="18.80" fill="#000">E</text>
</g>
</svg>
</body></html>
